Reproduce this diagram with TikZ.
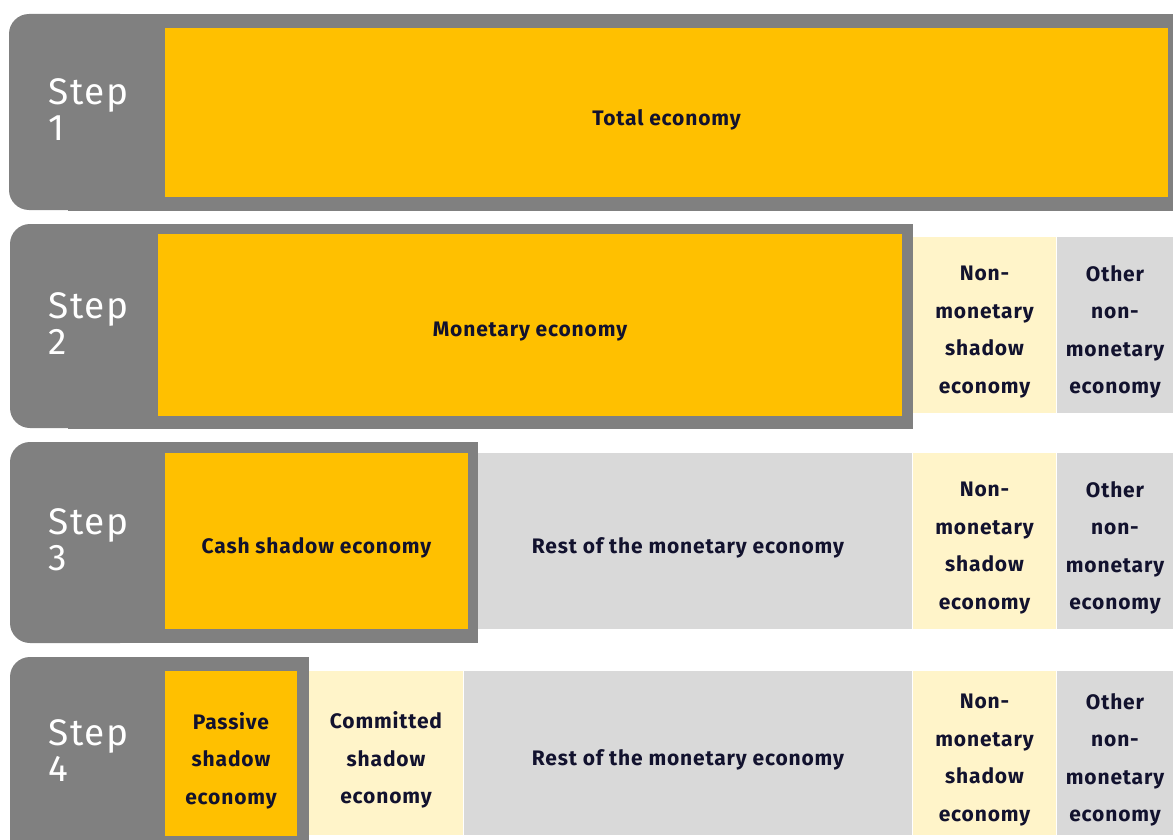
\documentclass[tikz,border=0pt]{standalone}
\usepackage{fontspec}
\setmainfont{Fira Sans}
\newfontfamily\cellfont[LetterSpace=4]{Fira Sans}
\newfontfamily\stepfont[LetterSpace=5]{Fira Sans}
\usetikzlibrary{calc}
\definecolor{panelgray}{HTML}{808080}
\definecolor{ey}{HTML}{FFC000}
\definecolor{paleyellow}{HTML}{FFF4C9}
\definecolor{lightgray}{HTML}{D9D9D9}
\definecolor{ink}{HTML}{12122E}
\tikzset{
  celltext/.style={inner sep=0pt, align=center, text=ink,
    font=\cellfont\fontsize{21}{37.5}\selectfont\bfseries},
  focus/.style={fill=ey},
  pale/.style={fill=paleyellow},
  rest/.style={fill=lightgray},
  panel/.style={fill=panelgray},
  steplabel/.style={anchor=west, align=left, text=white, inner sep=0pt,
    font=\stepfont\fontsize{37}{36}\selectfont},
}
% \cell{fill style}{name}{x1}{y1}{x2}{y2}{text}: filled box with its caption
\newcommand\cell[7]{%
  \fill[#1] (#3,#4) rectangle (#5,#6);
  \node[celltext] (#2) at ($(#3,#4)!0.5!(#5,#6)+(0,7)$) {#7};}
\begin{document}
\begin{tikzpicture}[x=1pt, y=-1pt]
\useasboundingbox (0,0) rectangle (1173,840);

% ---- Step 1: total economy
\fill[panel, rounded corners=20] (9,14) rectangle (140,210);
\fill[panel] (68,14) rectangle (1173,211);
\node[steplabel] (step1) at (48,110) {Step\\1};
\cell{focus}{total}{165}{28}{1168}{197}{Total economy}

% ---- Step 2: monetary vs non-monetary economy
\fill[panel, rounded corners=20] (10,224) rectangle (140,428);
\fill[panel] (68,224) rectangle (913,429);
\node[steplabel] (step2) at (48,324) {Step\\2};
\cell{focus}{monetary}{158}{234}{902}{416}{Monetary economy}
\cell{pale}{nonmon2}{913}{237}{1056}{413}{Non-\\monetary\\shadow\\economy}
\cell{rest}{other2}{1057}{237}{1173}{413}{Other\\non-\\monetary\\economy}

% ---- Step 3: cash shadow economy
\cell{rest}{rest3}{464}{453}{912}{629}{Rest of the monetary economy}
\fill[panel, rounded corners=20] (10,442) rectangle (140,643);
\fill[panel] (68,442) rectangle (478,643);
\node[steplabel] (step3) at (48,540) {Step\\3};
\cell{focus}{cash}{165}{453}{468}{629}{Cash shadow economy}
\cell{pale}{nonmon3}{913}{453}{1056}{629}{Non-\\monetary\\shadow\\economy}
\cell{rest}{other3}{1057}{453}{1173}{629}{Other\\non-\\monetary\\economy}

% ---- Step 4: passive vs committed shadow economy
\fill[panel, rounded corners=20] (10,657) rectangle (140,860);
\fill[panel] (68,657) rectangle (309,860);
\node[steplabel] (step4) at (48,751) {Step\\4};
\cell{focus}{passive}{165}{671}{297}{836}{Passive\\shadow\\economy}
\cell{pale}{committed}{309}{671}{463}{835}{Committed\\shadow\\economy}
\cell{rest}{rest4}{464}{671}{912}{835}{Rest of the monetary economy}
\cell{pale}{nonmon4}{913}{671}{1056}{835}{Non-\\monetary\\shadow\\economy}
\cell{rest}{other4}{1057}{671}{1173}{835}{Other\\non-\\monetary\\economy}
\end{tikzpicture}
\end{document}
